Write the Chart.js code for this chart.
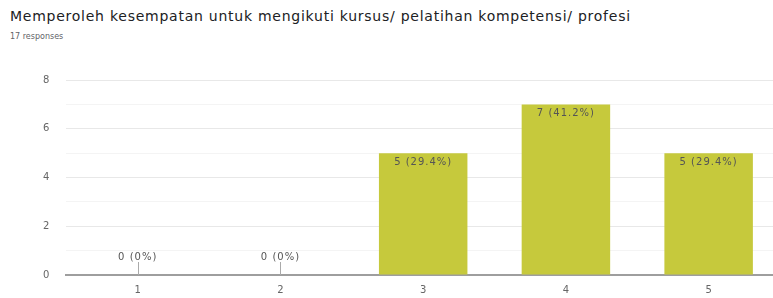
<!DOCTYPE html>
<html>
<head>
<meta charset="utf-8">
<script src="https://cdn.jsdelivr.net/npm/chart.js@4"></script>
<style>
  body { margin: 0; background: #fff; overflow: hidden; width: 773px; height: 298px; position: relative; }
  #title { position: absolute; left: 10px; top: 8px; font: 14px "DejaVu Sans", sans-serif; letter-spacing: 0.75px; color: #202124; white-space: nowrap; }
  #sub { position: absolute; left: 10px; top: 32px; font: 8px "DejaVu Sans", sans-serif; color: #5f6368; }
  #wrap { position: absolute; left: 0; top: 57px; width: 790px; height: 248px; }
</style>
</head>
<body>
<div id="title">Memperoleh kesempatan untuk mengikuti kursus/ pelatihan kompetensi/ profesi</div>
<div id="sub">17 responses</div>
<div id="wrap"><canvas id="chart"></canvas></div>
<script>
var categories = ['1', '2', '3', '4', '5'];
var counts = [0, 0, 5, 7, 5];
var labels = ['0 (0%)', '0 (0%)', '5 (29.4%)', '7 (41.2%)', '5 (29.4%)'];
var yTicks = [0, 2, 4, 6, 8];

// draws the count labels: inside the bar top, or above the axis for zero
var barLabels = {
    id: 'barLabels',
    afterDatasetsDraw: function (chart) {
        var ctx = chart.ctx;
        var meta = chart.getDatasetMeta(0);
        var base = chart.scales.y.getPixelForValue(0);
        ctx.save();
        ctx.font = '10px "DejaVu Sans", sans-serif';
        ctx.letterSpacing = '1px';
        ctx.fillStyle = '#555';
        ctx.textAlign = 'center';
        meta.data.forEach(function (bar, i) {
            if (counts[i] === 0) {
                ctx.textBaseline = 'bottom';
                ctx.fillText(labels[i], bar.x, base - 13);
                ctx.strokeStyle = '#aaa';
                ctx.lineWidth = 1;
                ctx.beginPath();
                ctx.moveTo(Math.round(bar.x) + 0.5, base - 13);
                ctx.lineTo(Math.round(bar.x) + 0.5, base);
                ctx.stroke();
            } else {
                ctx.textBaseline = 'top';
                ctx.fillText(labels[i], bar.x, bar.y + 4);
            }
        });
        ctx.restore();
    }
};

new Chart(document.getElementById('chart'), {
    type: 'bar',
    data: {
        labels: categories,
        datasets: [{
            data: counts,
            backgroundColor: '#c6c93c',
            categoryPercentage: 1,
            barPercentage: 0.62
        }]
    },
    options: {
        responsive: true,
        maintainAspectRatio: false,
        animation: false,
        layout: { padding: { left: 26, top: 15, right: 10, bottom: 0 } },
        plugins: { legend: { display: false }, tooltip: { enabled: false } },
        scales: {
            x: {
                grid: { display: false, drawTicks: false },
                border: { color: '#9e9e9e', width: 2 },
                ticks: { color: '#666', font: { size: 10, family: 'DejaVu Sans' }, padding: 9 }
            },
            y: {
                min: 0,
                max: 8,
                ticks: {
                    stepSize: 1,
                    color: '#666',
                    font: { size: 10, family: 'DejaVu Sans' },
                    padding: 17,
                    callback: function (v) { return yTicks.indexOf(v) >= 0 ? v : ''; }
                },
                grid: {
                    drawTicks: false,
                    color: function (c) { return c.tick.value % 2 === 0 ? '#e8e8e8' : '#f4f4f4'; }
                },
                border: { display: false }
            }
        }
    },
    plugins: [barLabels]
});
</script>
</body>
</html>
